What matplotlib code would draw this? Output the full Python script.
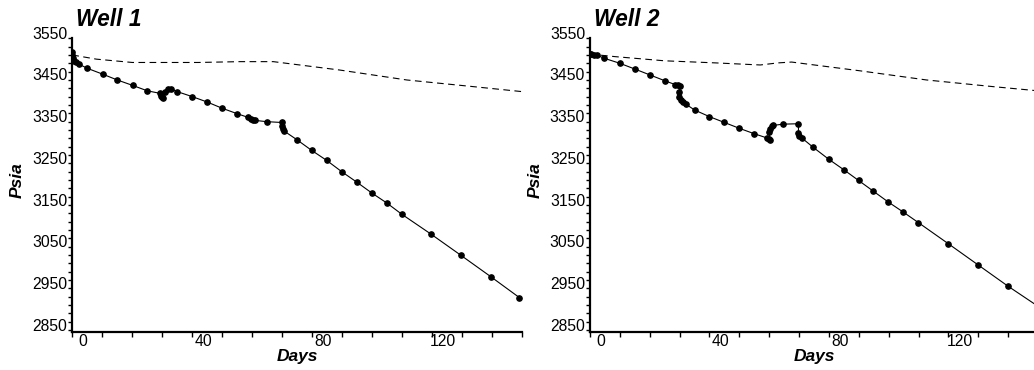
import matplotlib
matplotlib.use("Agg")
import matplotlib.pyplot as plt
from matplotlib.ticker import MultipleLocator, FixedLocator
from matplotlib.transforms import ScaledTranslation

plt.rcParams['font.family'] = ['Liberation Sans', 'DejaVu Sans']

# Well 1 - measured pressure (days, psia)
well1_days = [0, 0, 0.2, 0.4, 1.1, 2.2, 5.0, 10.1, 15.0, 20.1, 25.0, 29.2, 29.5, 29.8,
              30.3, 30.9, 32.0, 33.0, 35.0, 40.0, 45.0, 50.0, 55.0, 58.7, 59.4, 60.1,
              60.9, 64.8, 69.8, 69.8, 70.1, 70.7, 74.8, 79.8, 84.8, 89.8, 94.8, 99.8,
              104.8, 109.8, 119.6, 129.6, 139.5, 149.0]
well1_psi = [3518, 3510, 3502, 3496, 3492, 3488, 3478, 3464, 3450, 3437, 3424, 3418, 3412, 3408,
             3406, 3422, 3428, 3428, 3422, 3410, 3397, 3382, 3369, 3360, 3357, 3355,
             3353, 3350, 3348, 3339, 3332, 3327, 3307, 3281, 3257, 3230, 3205, 3179,
             3155, 3128, 3080, 3029, 2978, 2928]
# Well 1 - reference (dashed)
well1_ref_days = [0, 8, 20, 42, 56, 67, 89, 111.5, 133.7, 150]
well1_ref_psi = [3510, 3500, 3492, 3492, 3494, 3494, 3474, 3450, 3434, 3422]

# Well 2 - measured pressure
well2_days = [0, 0.5, 1.5, 2.2, 4.8, 10.0, 15.1, 20.1, 25.1, 28.5, 29.3, 30.1, 29.8,
              29.9, 30.5, 31.3, 32.1, 35, 40, 45, 50, 55, 59.2, 59.8, 60.2, 60.0,
              60.3, 60.8, 61.3, 64.7, 69.8, 69.8, 70.1, 70.9, 74.8, 79.9, 84.9, 89.9,
              94.9, 99.9, 104.9, 109.9, 120, 129.8, 139.8, 150]
well2_psi = [3512, 3512, 3511, 3510, 3502, 3490, 3476, 3462, 3448, 3439, 3437, 3436, 3422,
             3410, 3402, 3396, 3392, 3378, 3362, 3348, 3334, 3321, 3311, 3308, 3307, 3325,
             3333, 3339, 3341, 3344, 3345, 3323, 3316, 3311, 3288, 3260, 3235, 3209,
             3183, 3157, 3133, 3108, 3057, 3007, 2956, 2907]
# Well 2 - reference (dashed)
well2_ref_days = [0, 8.4, 25, 42, 57, 63, 67.5, 90.4, 112.7, 135, 150]
well2_ref_psi = [3512, 3506, 3496, 3491, 3486, 3491, 3493, 3472, 3450, 3434, 3424]

titles = ['Well 1', 'Well 2']
x_labels = [0, 40, 80, 120]

W, H = 1034, 370
fig = plt.figure(figsize=(W / 100, H / 100), dpi=100)
axes = [fig.add_axes([72.3 / W, (H - 331.7) / H, 450 / W, 293.4 / H]),
        fig.add_axes([590 / W, (H - 331.7) / H, 448 / W, 293.4 / H])]

datasets = [(well1_days, well1_psi, well1_ref_days, well1_ref_psi),
            (well2_days, well2_psi, well2_ref_days, well2_ref_psi)]

for ax, (d, p, rd, rp), title in zip(axes, datasets, titles):
    ax.plot(rd, rp, color='black', lw=0.8, ls=(0, (6, 4)))
    ax.plot(d, p, color='black', lw=0.8, marker='o', ms=3.8)
    ax.set_xlim(0, 150)
    ax.set_ylim(2846, 3550)
    for s in ['top', 'right']:
        ax.spines[s].set_visible(False)
    ax.spines['left'].set_linewidth(1.6)
    ax.spines['bottom'].set_linewidth(1.6)

    ax.set_yticks(range(2850, 3551, 100))
    ax.yaxis.set_minor_locator(MultipleLocator(20, offset=10))
    ax.xaxis.set_major_locator(FixedLocator(x_labels))
    ax.xaxis.set_minor_locator(MultipleLocator(10))
    ax.tick_params(axis='both', which='both', direction='out', width=1.0, color='black',
                   labelsize=11.3)
    ax.tick_params(axis='y', which='both', length=3, pad=0.5)
    ax.tick_params(axis='x', which='both', length=3.5, pad=-1.7)

    # the original software draws tick labels a little off their ticks
    dx = ScaledTranslation(11 / 100, 0, fig.dpi_scale_trans)
    for lab in ax.get_xticklabels():
        lab.set_transform(lab.get_transform() + dx)
    dy = ScaledTranslation(0, 5.5 / 100, fig.dpi_scale_trans)
    for lab in ax.get_yticklabels():
        lab.set_transform(lab.get_transform() + dy)

    ax.set_xlabel('Days', fontsize=12.5, fontweight='bold', fontstyle='italic')
    ax.set_ylabel('Psia', fontsize=12.5, fontweight='bold', fontstyle='italic')
    ax.xaxis.set_label_coords(0.5, -0.059)
    ax.yaxis.set_label_coords(-0.105, 0.517)
    ax.text(0.008, 1.065, title, transform=ax.transAxes, fontsize=16.4,
            fontweight='bold', fontstyle='italic', va='center', ha='left')

fig.savefig('out.png', dpi=100)
